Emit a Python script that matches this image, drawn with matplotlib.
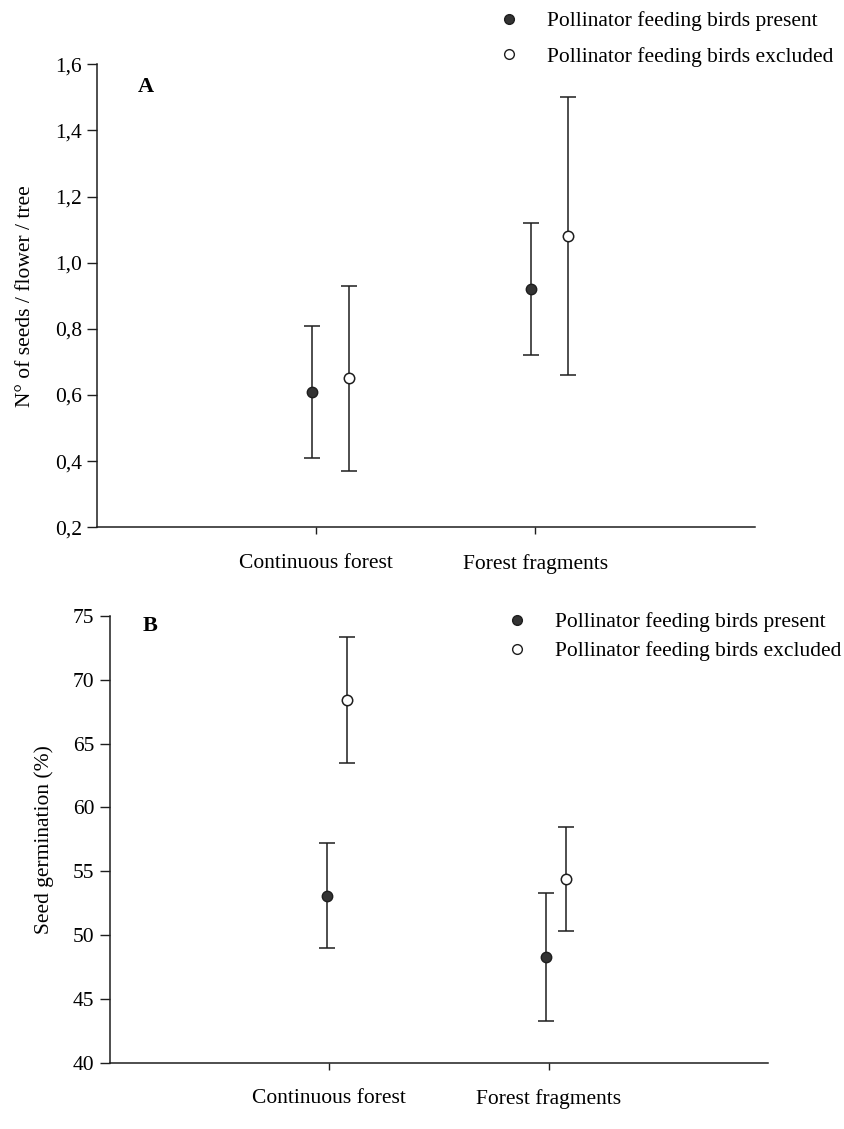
import matplotlib
matplotlib.use("Agg")
import matplotlib.pyplot as plt
from matplotlib.lines import Line2D
from matplotlib.ticker import FuncFormatter

plt.rcParams['font.family'] = ['Liberation Serif', 'DejaVu Serif']

# shared categories / legend
categories = ["Continuous forest", "Forest fragments"]
present_label = "Pollinator feeding birds present"
excluded_label = "Pollinator feeding birds excluded"

# panel A: seeds per flower per tree
seeds_present = [0.61, 0.92]
seeds_present_err = [0.20, 0.20]
seeds_excluded = [0.65, 1.08]
seeds_excluded_err = [0.28, 0.42]
seeds_ticks = [0.2, 0.4, 0.6, 0.8, 1.0, 1.2, 1.4, 1.6]

# panel B: seed germination (%)
germ_present = [53.1, 48.3]
germ_present_err = [4.1, 5.0]
germ_excluded = [68.4, 54.4]
germ_excluded_err = [4.95, 4.1]
germ_ticks = [40, 45, 50, 55, 60, 65, 70, 75]

ink = '#1e1e1e'
fs = 15.5
fig = plt.figure(figsize=(8.45, 11.29), dpi=100)

axA = fig.add_axes([0.115, 0.533, 0.778, 0.410])
axB = fig.add_axes([0.130, 0.0585, 0.779, 0.396])

def draw_panel(ax, pres, pres_err, excl, excl_err, off_p, off_e, ticks, ylabel, letter, letter_x, letter_y, fmt):
    xs = [1, 2]
    ax.errorbar([x + off_p for x in xs], pres, yerr=pres_err, fmt='o', color=ink,
                mfc='#333333', mec=ink, ms=7.5, capsize=5.5, elinewidth=1.1, capthick=1.1)
    ax.errorbar([x + off_e for x in xs], excl, yerr=excl_err, fmt='o', color=ink,
                mfc='white', mec=ink, ms=7.5, mew=1.1, capsize=5.5, elinewidth=1.1, capthick=1.1)
    ax.set_xlim(0, 3)
    ax.set_ylim(ticks[0], ticks[-1])
    ax.set_xticks(xs)
    ax.set_xticklabels(categories, fontsize=fs)
    ax.set_yticks(ticks)
    ax.yaxis.set_major_formatter(fmt)
    ax.tick_params(axis='y', labelsize=fs, length=7, width=1, color=ink, pad=4)
    ax.tick_params(axis='x', length=5, width=1, color=ink, pad=14)
    for s in ['top', 'right']:
        ax.spines[s].set_visible(False)
    for s in ['left', 'bottom']:
        ax.spines[s].set_linewidth(1.1)
        ax.spines[s].set_color(ink)
    ax.set_ylabel(ylabel, fontsize=fs)
    ax.text(letter_x, letter_y, letter, transform=ax.transAxes, fontsize=16,
            fontweight='bold', va='center', ha='left')

comma = FuncFormatter(lambda v, p: ('%.1f' % v).replace('.', ','))
draw_panel(axA, seeds_present, seeds_present_err, seeds_excluded, seeds_excluded_err,
           -0.02, 0.15, seeds_ticks, "N° of seeds / flower / tree", "A", 0.062, 0.95, comma)
draw_panel(axB, germ_present, germ_present_err, germ_excluded, germ_excluded_err,
           -0.01, 0.08, germ_ticks, "Seed germination (%)", "B", 0.05, 0.977,
           FuncFormatter(lambda v, p: '%d' % v))
axA.yaxis.set_label_coords(-0.095, 0.5)
axB.yaxis.set_label_coords(-0.085, 0.5)

handles = [Line2D([], [], ls='none', marker='o', mfc='#333333', mec=ink, ms=7),
           Line2D([], [], ls='none', marker='o', mfc='white', mec=ink, ms=7, mew=1)]
axA.legend(handles, [present_label, excluded_label], loc='upper left',
           bbox_to_anchor=(498 / 845, 1 - 11 / 1129), bbox_transform=fig.transFigure,
           frameon=False, fontsize=fs, handlelength=1, handletextpad=1.28,
           labelspacing=0.72, borderpad=0, borderaxespad=0)
axB.legend(handles, [present_label, excluded_label], loc='upper left',
           bbox_to_anchor=(506 / 845, 1 - 612 / 1129), bbox_transform=fig.transFigure,
           frameon=False, fontsize=fs, handlelength=1, handletextpad=1.28,
           labelspacing=0.42, borderpad=0, borderaxespad=0)

fig.savefig("out.png", dpi=100, facecolor='white')
